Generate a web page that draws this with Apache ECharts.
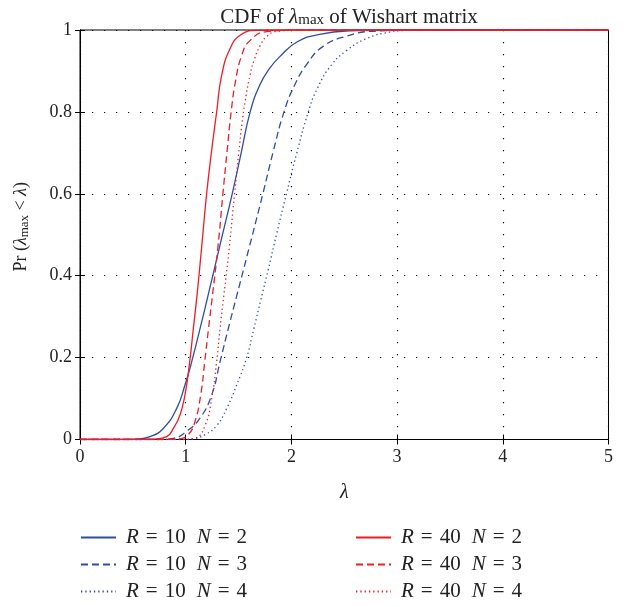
<!DOCTYPE html>
<html><head><meta charset="utf-8">
<script src="https://cdn.jsdelivr.net/npm/echarts@6/dist/echarts.min.js"></script>
<style>html,body{margin:0;padding:0;background:#fff}#c{width:632px;height:607px}</style>
</head><body><div id="c"></div>
<script>
// Series values: [lambda, Pr]
const seriesNames = ['R = 10  N = 2','R = 10  N = 3','R = 10  N = 4','R = 40  N = 2','R = 40  N = 3','R = 40  N = 4'];
const r10n2 = [[0,0],[0.4,0],[0.536,0.001],[0.662,0.007],[0.788,0.027],[0.915,0.076],[0.993,0.133],[1.057,0.19],[1.135,0.27],[1.21,0.35],[1.32,0.47],[1.44,0.60],[1.525,0.70],[1.61,0.80],[1.70,0.865],[1.79,0.905],[1.89,0.935],[2.06,0.972],[2.28,0.99],[2.55,0.998],[2.9,1],[5,1]];
const r10n3 = [[0,0],[0.75,0],[0.883,0.003],[1.009,0.02],[1.135,0.052],[1.246,0.109],[1.325,0.19],[1.403,0.271],[1.482,0.35],[1.602,0.47],[1.73,0.60],[1.825,0.70],[1.93,0.80],[2.03,0.865],[2.15,0.918],[2.30,0.96],[2.52,0.985],[2.77,0.997],[3.2,1],[5,1]];
const r10n4 = [[0,0],[0.95,0],[1.072,0.002],[1.183,0.012],[1.293,0.034],[1.388,0.076],[1.482,0.133],[1.577,0.20],[1.645,0.271],[1.71,0.34],[1.78,0.414],[1.861,0.503],[1.955,0.602],[2.047,0.696],[2.16,0.80],[2.245,0.857],[2.38,0.915],[2.523,0.95],[2.71,0.979],[2.93,0.995],[3.09,0.999],[3.5,1],[5,1]];
const r40n2 = [[0,0],[0.6,0],[0.7,0.001],[0.82,0.007],[0.883,0.027],[0.946,0.06],[0.993,0.109],[1.034,0.182],[1.072,0.27],[1.11,0.36],[1.151,0.47],[1.198,0.60],[1.245,0.705],[1.293,0.80],[1.34,0.889],[1.419,0.954],[1.514,0.987],[1.67,0.999],[2,1],[5,1]];
const r40n3 = [[0,0],[0.85,0],[0.946,0.002],[1.025,0.012],[1.088,0.044],[1.142,0.109],[1.18,0.19],[1.216,0.271],[1.25,0.345],[1.305,0.47],[1.352,0.60],[1.39,0.70],[1.43,0.80],[1.47,0.873],[1.53,0.938],[1.608,0.974],[1.766,0.996],[2.1,1],[5,1]];
const r40n4 = [[0,0],[1.0,0],[1.088,0.003],[1.183,0.034],[1.246,0.10],[1.293,0.19],[1.325,0.271],[1.36,0.35],[1.413,0.47],[1.462,0.60],[1.502,0.70],[1.532,0.77],[1.565,0.83],[1.608,0.889],[1.652,0.93],[1.705,0.962],[1.77,0.985],[1.87,0.997],[2.1,1],[5,1]];
const xTicks = [0,1,2,3,4,5];
const yTicks = [0,0.2,0.4,0.6,0.8,1];

const FONT = 'Liberation Serif';
const BLUE = '#2d4ea3', RED = '#f01c24';
const styles = [
  {c:BLUE,t:'solid'},{c:BLUE,t:[7,4]},{c:BLUE,t:[1.3,3]},
  {c:RED,t:'solid'},{c:RED,t:[7,4]},{c:RED,t:[1.3,3]}
];
const datas = [r10n2,r10n3,r10n4,r40n2,r40n3,r40n4];
const gridLine = {show:true,lineStyle:{color:'#111',type:[1.2,10.8],width:1.2}};
function mkRich(fs){
  return {
    a:{fontFamily:FONT,fontSize:fs,fontWeight:'normal',color:'#222',lineHeight:20},
    i:{fontFamily:FONT,fontSize:fs,fontWeight:'normal',color:'#222',fontStyle:'italic',lineHeight:20},
    s:{fontFamily:FONT,fontSize:Math.round(fs*0.7),fontWeight:'normal',color:'#222',padding:[7,0,0,0]},
    e:{fontFamily:FONT,fontSize:fs,fontWeight:'normal',color:'#222',lineHeight:20,padding:[0,7,0,7]},
    g:{fontFamily:FONT,fontSize:fs,width:11,lineHeight:20}
  };
}
const legendFmt = n => n.replace(/^R = (\d+)  N = (\d+)$/, '{i|R}{e|=}{a|$1}{g| }{i|N}{e|=}{a|$2}');
const legendBase = {orient:'vertical',top:527,height:90,padding:0,itemWidth:35,itemHeight:14,itemGap:6,
  itemStyle:{opacity:0},formatter:legendFmt,
  textStyle:{rich:mkRich(21),fontFamily:FONT,fontSize:21,padding:[0,0,0,5]}};
const chart = echarts.init(document.getElementById('c'),null,{renderer:'canvas'});
chart.setOption({
  animation:false,
  backgroundColor:'#fff',
  title:{text:'{a|CDF of }{i|λ}{s|max}{a| of Wishart matrix}',left:344,textAlign:'center',top:1,textStyle:{rich:mkRich(21)}},
  grid:{left:80,right:23.5,top:30,bottom:167.5,show:true,borderColor:'#000',borderWidth:1},
  legend:[
    Object.assign({left:80,data:seriesNames.slice(0,3)},legendBase),
    Object.assign({left:355,data:seriesNames.slice(3)},legendBase)
  ],
  xAxis:[
    {type:'value',min:0,max:5,interval:1,name:'λ',nameLocation:'middle',nameGap:43,
     nameTextStyle:{fontFamily:FONT,fontSize:20,fontStyle:'italic',color:'#222'},
     axisLine:{show:true,lineStyle:{color:'#000'}},axisTick:{show:true,inside:true,length:5,lineStyle:{color:'#000'}},
     axisLabel:{fontFamily:FONT,fontSize:18,color:'#222',margin:9,formatter:v=>String(v)},splitLine:gridLine},
    {type:'value',min:0,max:5,interval:1,position:'top',axisLine:{show:true,lineStyle:{color:'#000'}},
     axisTick:{show:true,inside:true,length:5,lineStyle:{color:'#000'}},axisLabel:{show:false},splitLine:{show:false}}
  ],
  yAxis:[
    {type:'value',min:0,max:1,interval:0.2,name:'{a|Pr (}{i|λ}{s|max}{a| < }{i|λ}{a|)}',nameLocation:'middle',nameGap:49,nameRotate:90,
     nameTextStyle:{rich:mkRich(18),padding:[0,0,0,16]},
     axisLine:{show:true,lineStyle:{color:'#000'}},axisTick:{show:true,inside:true,length:5,lineStyle:{color:'#000'}},
     axisLabel:{fontFamily:FONT,fontSize:18,color:'#222',margin:8,formatter:v=>String(Math.round(v*10)/10)},splitLine:gridLine},
    {type:'value',min:0,max:1,interval:0.2,position:'right',axisLine:{show:true,lineStyle:{color:'#000'}},
     axisTick:{show:true,inside:true,length:5,lineStyle:{color:'#000'}},axisLabel:{show:false},splitLine:{show:false}}
  ],
  series:seriesNames.map((n,k)=>({
    name:n,type:'line',data:datas[k],showSymbol:false,symbol:'none',symbolSize:0,smooth:0.5,
    color:styles[k].c,lineStyle:{color:styles[k].c,width:1.3,type:styles[k].t},z:3
  }))
});
</script></body></html>
